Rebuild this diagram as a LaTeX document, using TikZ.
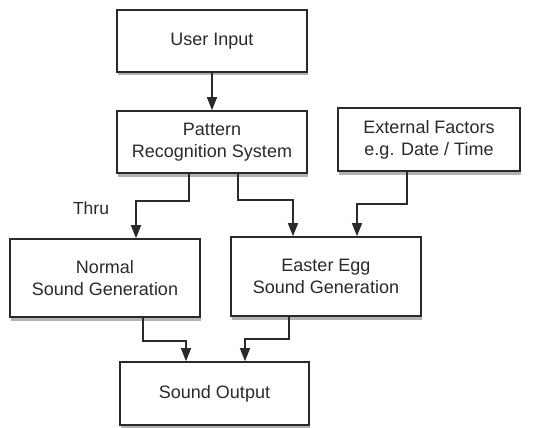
\documentclass[tikz,border=0pt]{standalone}
\usepackage{fontspec}
\setmainfont{Liberation Sans}
\usetikzlibrary{arrows.meta,shadows,calc}
\definecolor{ink}{HTML}{2A2A2A}
\tikzset{
  box/.style={draw=ink, line width=1.6pt, fill=white, align=center, inner sep=2pt,
    font=\fontsize{18}{22}\selectfont, text=ink,
    drop shadow={shadow xshift=0.5pt, shadow yshift=-3.5pt, fill=black, opacity=0.3}},
  arr/.style={draw=ink, line width=1.5pt, -{Triangle[width=10pt,length=13pt]}}
}
\begin{document}
\begin{tikzpicture}[x=1pt,y=-1pt]
\useasboundingbox (0,0) rectangle (546,428);
\node[box, minimum width=190pt, minimum height=62pt] (ui) at (212,41) {User Input};
\node[box, minimum width=190pt, minimum height=62pt] (prs) at (212,142) {Pattern\\Recognition System};
\node[box, minimum width=182pt, minimum height=63pt] (ext) at (429,139.5) {External Factors\\e.g. Date / Time};
\node[box, minimum width=190pt, minimum height=78pt] (nsg) at (105,278) {Normal\\Sound Generation};
\node[box, minimum width=190pt, minimum height=79pt] (eeg) at (326,276.5) {Easter Egg\\Sound Generation};
\node[box, minimum width=189pt, minimum height=63pt] (so) at (214.5,393.5) {Sound Output};
\node[font=\fontsize{17.5}{20}\selectfont, text=ink] (thru) at (91,208) {Thru};
\draw[arr] (ui) -- (prs);
\draw[arr] ([xshift=-23pt]prs.south) -- ++(0,27) -| ([xshift=31pt]nsg.north);
\draw[arr] ([xshift=26pt]prs.south) -- ++(0,26) -| ([xshift=-33pt]eeg.north);
\draw[arr] ([xshift=-22pt]ext.south) -- ++(0,32) -| ([xshift=31pt]eeg.north);
\draw[arr] ([xshift=38pt]nsg.south) -- ++(0,23) -| ([xshift=-28.5pt]so.north);
\draw[arr] ([xshift=-37pt]eeg.south) -- ++(0,22) -| ([xshift=30.5pt]so.north);
\end{tikzpicture}
\end{document}
